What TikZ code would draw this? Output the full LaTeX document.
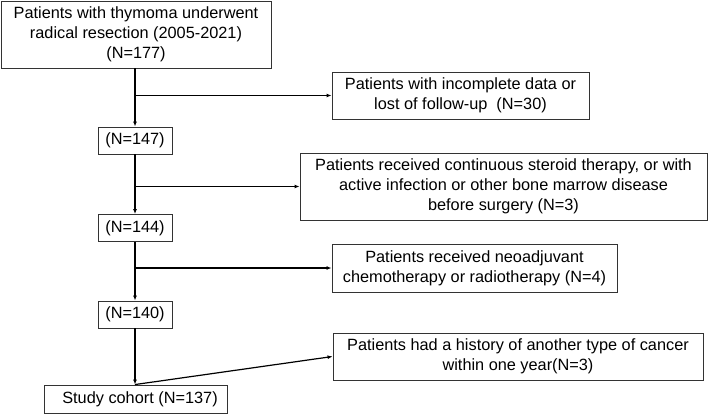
\documentclass[tikz,border=0pt]{standalone}
\usepackage{fontspec}
\setmainfont{Liberation Sans}
\usetikzlibrary{arrows.meta}
\tikzset{
  box/.style={draw=black!80, line width=0.9pt, inner sep=0pt, align=center, font=\fontsize{16.3}{20}\selectfont},
  arr/.style={line width=1.2pt, -{Latex[length=5pt,width=4pt]}}
}
\begin{document}
\begin{tikzpicture}[x=1pt,y=-1pt]
		\useasboundingbox (0,0) rectangle (708,414);
		\node[box, minimum width=270, minimum height=67] (top) at (136,34.5) {Patients with thymoma underwent\\radical resection (2005-2021)\\(N=177)};
		\node[box, minimum width=257, minimum height=47] (r1) at (460.5,95.5) {Patients with incomplete data or\\lost of follow-up\ \ (N=30)};
		\node[box, minimum width=74, minimum height=27] (n147) at (135,140.5) {(N=147)};
		\node[box, minimum width=407, minimum height=67] (r2) at (503.5,186.5) {Patients received continuous steroid therapy, or with\\active infection or other bone marrow disease\\before surgery (N=3)};
		\node[box, minimum width=74, minimum height=27] (n144) at (135,228) {(N=144)};
		\node[box, minimum width=285, minimum height=48] (r3) at (474.5,268) {Patients received neoadjuvant\\chemotherapy or radiotherapy (N=4)};
		\node[box, minimum width=74, minimum height=27] (n140) at (135,314.5) {(N=140)};
		\node[box, minimum width=370, minimum height=47] (r4) at (518,356.5) {Patients had a history of another type of cancer\\within one year(N=3)};
		\node[box, minimum width=183, minimum height=28] (study) at (135.5,399) {\ \ Study cohort (N=137)};
		
		% main flow
		\draw[arr] (top.south -| n147.north) -- (n147.north);
		\draw[arr] (n147) -- (n144);
		\draw[arr] (n144) -- (n140);
		\draw[arr] (n140.south) -- (n140.south |- study.north);
		
		% exclusions
		\draw[arr] (n147.north |- r1.west) -- (r1.west);
		\draw[arr] (n144.north |- r2.west) -- (r2.west);
		\draw[arr] (n140.north |- r3.west) -- (r3.west);
		\draw[arr] (study.north -| n140.south |- r4.west) -- (r4.west);
\end{tikzpicture}
\end{document}
